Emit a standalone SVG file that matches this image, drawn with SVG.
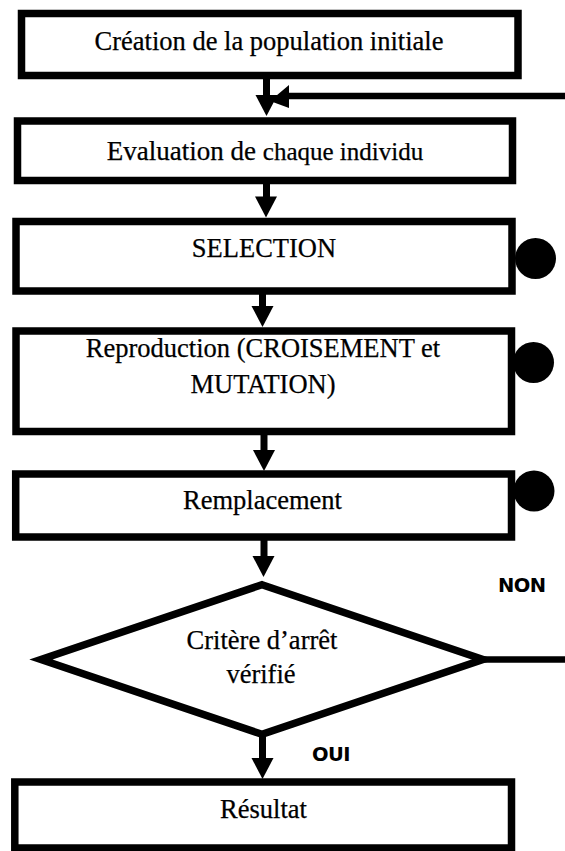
<svg xmlns="http://www.w3.org/2000/svg" width="565" height="851" viewBox="0 0 565 851">
  <style>
    .box { fill: #fff; stroke: #000; stroke-width: 7.5; }
    .diamond { fill: #fff; stroke: #000; stroke-width: 7.5; stroke-linejoin: miter; stroke-miterlimit: 10; }
    .stem { stroke: #000; stroke-width: 7; fill: none; }
    .line { stroke: #000; stroke-width: 6.5; fill: none; }
    .head { fill: #000; }
    .dot { fill: #000; }
    .lbl { font-family: 'Liberation Serif', 'Times New Roman', serif; font-size: 26.5px; fill: #000; stroke: #000; stroke-width: 0.25; text-anchor: middle; }
    .tag { font-family: 'DejaVu Sans', 'Liberation Sans', sans-serif; font-weight: bold; font-size: 19.5px; letter-spacing: -0.6px; fill: #000; }
  </style>
  <defs>
    <!-- downward arrowhead, tip at origin -->
    <polygon id="ahead" points="-11,-21 11,-21 0,0"/>
  </defs>
  <rect width="565" height="851" fill="#fff"/>

  <g id="n-init">
    <rect class="box" x="21.5" y="13.5" width="496.5" height="62"/>
    <text class="lbl" x="269" y="50" font-size="27">Création de la population initiale</text>
  </g>

  <g id="n-eval">
    <rect class="box" x="17.5" y="121" width="495" height="59.5"/>
    <text class="lbl" x="265" y="160"><tspan font-size="27">Evaluation de </tspan><tspan font-size="25">chaque individu</tspan></text>
  </g>

  <g id="n-selection">
    <rect class="box" x="16" y="221.5" width="496" height="69.5"/>
    <text class="lbl" x="264" y="257">SELECTION</text>
    <circle class="dot" cx="535.5" cy="258.5" r="20.5"/>
  </g>

  <g id="n-repro">
    <rect class="box" x="16" y="331" width="495.5" height="100.5"/>
    <text class="lbl" x="263" y="357">Reproduction (CROISEMENT et</text>
    <text class="lbl" x="263" y="393">MUTATION)</text>
    <circle class="dot" cx="533.5" cy="362.5" r="20.5"/>
  </g>

  <g id="n-remp">
    <rect class="box" x="15.7" y="474" width="495.8" height="63"/>
    <text class="lbl" x="262.5" y="509" font-size="26">Remplacement</text>
    <circle class="dot" cx="534" cy="491" r="20.5"/>
  </g>

  <g id="n-test">
    <polygon class="diamond" points="262,584.7 483,659.5 262,734.3 41,659.5"/>
    <text class="lbl" x="262" y="649">Critère d’arrêt</text>
    <text class="lbl" x="261" y="683">vérifié</text>
  </g>

  <g id="n-result">
    <rect class="box" x="14.8" y="782" width="496.7" height="66"/>
    <text class="lbl" x="263.5" y="818" font-size="27">Résultat</text>
  </g>

  <g id="connectors">
    <line class="stem" x1="266.5" y1="79" x2="266.5" y2="97"/>
    <use href="#ahead" class="head" transform="translate(266.5,116)"/>

    <line class="stem" x1="266.5" y1="184" x2="266.5" y2="198"/>
    <use href="#ahead" class="head" transform="translate(266,217.5)"/>

    <line class="stem" x1="262.5" y1="294" x2="262.5" y2="307"/>
    <use href="#ahead" class="head" transform="translate(262.5,327)"/>

    <line class="stem" x1="264" y1="435" x2="264" y2="452"/>
    <use href="#ahead" class="head" transform="translate(264,471)"/>

    <line class="stem" x1="264" y1="540" x2="264" y2="558"/>
    <use href="#ahead" class="head" transform="translate(263.5,577)"/>

    <line class="stem" x1="262.5" y1="734" x2="262.5" y2="760"/>
    <use href="#ahead" class="head" transform="translate(262.5,779)"/>

    <!-- loop back from the test (NON) -->
    <line class="line" x1="483" y1="659.5" x2="565" y2="659.5"/>
    <line class="line" x1="565" y1="96" x2="287" y2="96"/>
    <polygon class="head" points="289,85 289,108 270,101"/>

    <text class="tag" x="498" y="592">NON</text>
    <text class="tag" x="312" y="761">OUI</text>
  </g>
</svg>
